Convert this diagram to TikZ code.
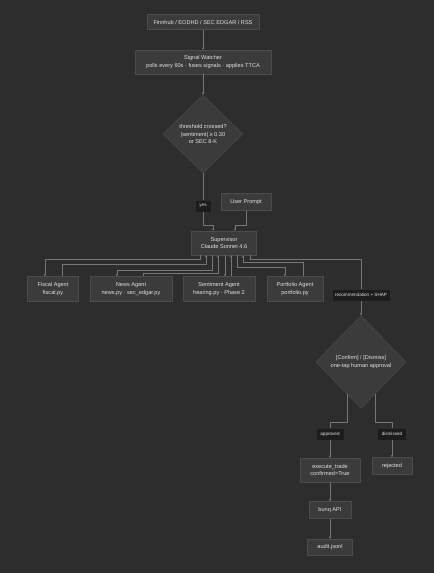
\documentclass[tikz,border=0pt]{standalone}
\usepackage{fontspec}
\setmainfont{Liberation Sans}
\usetikzlibrary{shapes.geometric, arrows.meta}
\definecolor{bgdark}{HTML}{2D2D2D}
\definecolor{boxfill}{HTML}{3B3B3B}
\definecolor{boxline}{HTML}{4C4C4C}
\definecolor{linkgray}{HTML}{767676}
\definecolor{txtgray}{HTML}{E2E2E2}
\definecolor{tagfill}{HTML}{1C1C1C}

\begin{document}
\begin{tikzpicture}[x=1pt,y=-1pt]
							\tikzstyle{box} = [rectangle,fill=boxfill,draw=boxline,line width=0.4pt,text=txtgray,align=center,inner sep=0pt,font=\fontsize{5.6}{7.6}\selectfont]
							\tikzstyle{decision} = [diamond,aspect=1,fill=boxfill,draw=boxline,line width=0.4pt,text=txtgray,align=center,inner sep=0pt,font=\fontsize{5.6}{7.6}\selectfont]
							\tikzstyle{tag} = [rectangle,fill=tagfill,text=txtgray,inner sep=0pt,font=\fontsize{4.6}{5}\selectfont]
							\tikzstyle{link} = [-,draw=linkgray,line width=0.45pt]
							\tikzstyle{linkarrow} = [-{Stealth[length=2.4pt,width=2.4pt]},draw=linkgray,line width=0.45pt]
							\fill[bgdark] (0,0) rectangle (434,573);
							\useasboundingbox (0,0) rectangle (434,573);
							\node[box,minimum width=112,minimum height=15] (n1) at (203,22) {Finnhub / EODHD / SEC EDGAR / RSS};
							\node[box,minimum width=136,minimum height=24] (n2) at (203,62) {Signal Watcher\\polls every 60s · fuses signals · applies TTCA};
							\node[decision,minimum width=80,minimum height=78] (n3) at (203,134) {threshold crossed?\\|sentiment| ≥ 0.30\\or SEC 8-K};
							\node[tag,minimum width=15,minimum height=11] (l1) at (203,206) {yes};
							\node[box,minimum width=50,minimum height=17] (n4) at (246,202) {User Prompt};
							\node[box,minimum width=65,minimum height=24] (n5) at (224,243) {Supervisor\\Claude Sonnet 4.6};
							\node[box,minimum width=51,minimum height=25] (n6) at (53,289) {Fiscal Agent\\fiscal.py};
							\node[box,minimum width=82,minimum height=25] (n7) at (131,289) {News Agent\\news.py · sec\_edgar.py};
							\node[box,minimum width=72,minimum height=25] (n8) at (219,289) {Sentiment Agent\\hearing.py · Phase 2};
							\node[box,minimum width=56,minimum height=25] (n9) at (295,289) {Portfolio Agent\\portfolio.py};
							\node[tag,minimum width=57,minimum height=11] (l2) at (361,295) {recommendation + SHAP};
							\node[decision,minimum width=90,minimum height=93] (n10) at (361,362) {[Confirm] / [Dismiss]\\one-tap human approval};
							\node[tag,minimum width=27,minimum height=11] (l3) at (330,434) {approved};
							\node[tag,minimum width=28,minimum height=11] (l4) at (392,434) {dismissed};
							\node[box,minimum width=60,minimum height=24] (n11) at (330,470) {execute\_trade\\confirmed=True};
							\node[box,minimum width=40,minimum height=17] (n12) at (392,466) {rejected};
							\node[box,minimum width=42,minimum height=17] (n13) at (330,510) {bunq API};
							\node[box,minimum width=45,minimum height=16] (n14) at (330,547) {audit.jsonl};
							
							\draw[linkarrow] (n1)--(n2);
							\draw[linkarrow] (n2)--(n3);
							\draw[link] (n3)--(l1);
							\draw[linkarrow] (l1.south) -- ++(0,14) -| ([xshift=-11pt]n5.north);
							\draw[linkarrow] (n4.south) -- ++(0,15) -| ([xshift=11pt]n5.north);
							\draw[linkarrow] ([xshift=-24pt]n5.south) -- ++(0,4) -| ([xshift=-8pt]n6.north);
							\draw[linkarrow] ([xshift=9pt]n6.north) -- ++(0,-12) -| ([xshift=-18pt]n5.south);
							\draw[linkarrow] ([xshift=-12pt]n5.south) -- ++(0,15) -| ([xshift=-14pt]n7.north);
							\draw[linkarrow] ([xshift=12pt]n7.north) -- ++(0,-3) -| ([xshift=-6pt]n5.south);
							\draw[linkarrow] ([xshift=1pt]n5.south) -- ([xshift=6pt]n8.north);
							\draw[linkarrow] ([xshift=12pt]n8.north) -- ([xshift=7pt]n5.south);
							\draw[linkarrow] ([xshift=13pt]n5.south) -- ++(0,12) -| ([xshift=-10pt]n9.north);
							\draw[linkarrow] ([xshift=8pt]n9.north) -- ++(0,-14) -| ([xshift=19pt]n5.south);
							\draw[link] ([xshift=26pt]n5.south) -- ++(0,4) -| (l2.north);
							\draw[linkarrow] (l2)--(n10);
							\draw[link] (n10.246) -- ++(0,28) -| (l3.north);
							\draw[link] (n10.294) -- ++(0,28) -| (l4.north);
							\draw[linkarrow] (l3)--(n11);
							\draw[linkarrow] (l4)--(n12);
							\draw[linkarrow] (n11)--(n13);
							\draw[linkarrow] (n13)--(n14);
\end{tikzpicture}
\end{document}
